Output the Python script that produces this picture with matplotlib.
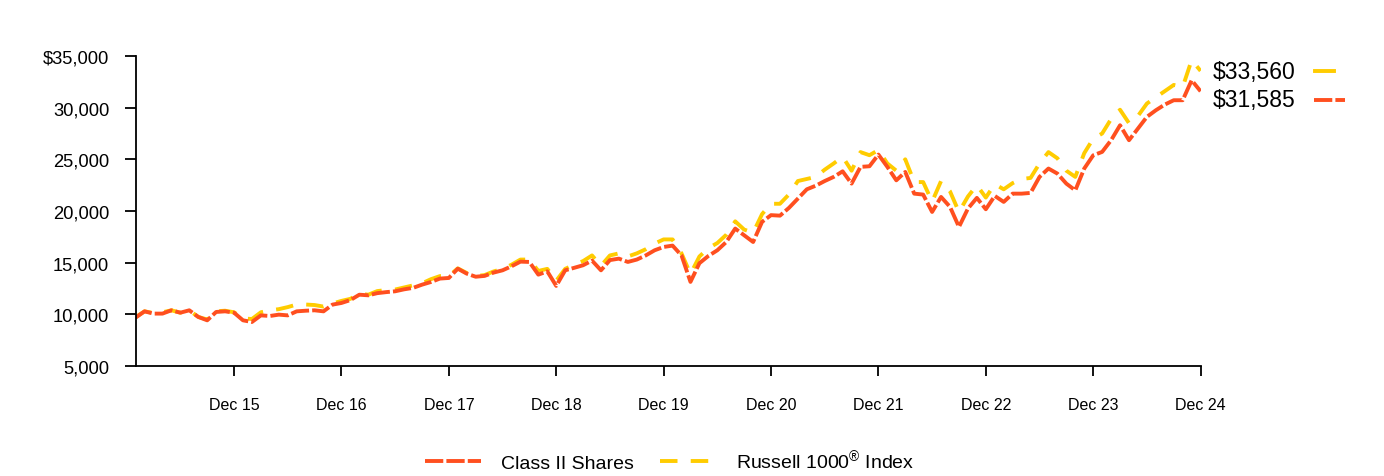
import matplotlib
matplotlib.use("Agg")
import matplotlib.pyplot as plt
from matplotlib.lines import Line2D
from matplotlib.ticker import FuncFormatter

plt.rcParams['font.family'] = ['Liberation Sans', 'DejaVu Sans']
plt.rcParams['mathtext.default'] = 'regular'

### Data (month index 1 = Jan 2015 ... 120 = Dec 2024) ###
months = list(range(1, 121))

class_ii = [
    9680, 10290, 10070, 10070, 10390, 10160, 10390, 9750, 9420, 10230, 10290, 10160,
    9420, 9260, 9900, 9840, 9970, 9900, 10290, 10350, 10390, 10290, 10940, 11100,
    11380, 11900, 11840, 12050, 12150, 12230, 12420, 12560, 12870, 13130, 13460, 13520,
    14420, 13940, 13640, 13720, 14040, 14260, 14650, 15100, 15070, 13840, 14160, 12750,
    14260, 14500, 14750, 15200, 14260, 15250, 15390, 15070, 15300, 15700, 16200, 16520,
    16650, 15700, 13140, 14950, 15650, 16200, 17000, 18300, 17650, 17000, 18950, 19600,
    19550, 20300, 21200, 22100, 22450, 22900, 23300, 23840, 22650, 24270, 24330, 25460,
    24270, 22970, 23780, 21680, 21590, 19910, 21360, 20400, 18460, 20230, 21270, 20170,
    21460, 20880, 21680, 21680, 21750, 23300, 24110, 23620, 22650, 22000, 24110, 25390,
    25720, 26850, 28300, 26850, 27980, 29110, 29750, 30300, 30720, 30720, 32650, 31585,
]

russell = [
    9730, 10290, 10130, 10200, 10390, 10160, 10390, 9750, 9500, 10300, 10350, 10200,
    9600, 9550, 10200, 10390, 10500, 10700, 10950, 10950, 10900, 10750, 11050, 11300,
    11500, 12000, 11900, 12250, 12350, 12400, 12600, 12800, 13000, 13400, 13700, 13700,
    14450, 14000, 13700, 13800, 14150, 14400, 14800, 15300, 15300, 14200, 14400, 13250,
    14400, 14800, 15150, 15700, 14700, 15700, 15900, 15600, 15900, 16300, 16850, 17250,
    17250, 15900, 13900, 15600, 16400, 16900, 17700, 19000, 18200, 17900, 19700, 20700,
    20700, 21600, 22900, 23100, 23300, 24000, 24600, 25250, 23900, 25700, 25400, 25900,
    24600, 23900, 25000, 22800, 22800, 20900, 22900, 21900, 19900, 21400, 22500, 21300,
    22600, 22100, 22700, 23100, 23200, 24600, 25700, 25100, 23900, 23300, 25600, 27000,
    27500, 28900, 29800, 28500, 29200, 30400, 31000, 31600, 32200, 32000, 34600, 33560,
]

tick_months = [12, 24, 36, 48, 60, 72, 84, 96, 108, 120]
tick_labels = ['Dec 15', 'Dec 16', 'Dec 17', 'Dec 18', 'Dec 19',
               'Dec 20', 'Dec 21', 'Dec 22', 'Dec 23', 'Dec 24']
y_ticks = [5000, 10000, 15000, 20000, 25000, 30000, 35000]

end_class = "$31,585"
end_russell = "$33,560"

orange = '#FF4F1F'
yellow = '#FFCC00'

### Plot ###
fig = plt.figure(figsize=(13.84, 4.77), dpi=100)
ax = fig.add_axes([135.6 / 1384, 0.2306, 1065 / 1384, 0.6499])

ax.plot(months, russell, color=yellow, lw=2.8, dashes=(4.5, 3.4), label='Russell 1000$^{®}$ Index')
ax.plot(months, class_ii, color=orange, lw=2.8, dashes=(4.7, 0.8), label='Class II Shares')

ax.set_xlim(1, 120)
ax.set_ylim(5000, 35000)
ax.set_xticks(tick_months)
ax.set_xticklabels(tick_labels, fontsize=11.5)
ax.set_yticks(y_ticks)
ax.yaxis.set_major_formatter(FuncFormatter(
    lambda v, p: '${:,.0f}'.format(v) if v == 35000 else '{:,.0f}'.format(v)))
ax.tick_params(axis='y', labelsize=13.2, length=8, width=1.3, direction='out', pad=11)
ax.tick_params(axis='x', length=7, width=1.3, direction='out', pad=15.5)
for s in ['top', 'right']:
    ax.spines[s].set_visible(False)
for s in ['left', 'bottom']:
    ax.spines[s].set_linewidth(1.3)

# end value labels with line samples
fig.text(1213 / 1384, 1 - 72 / 477, end_russell, fontsize=16.5, va='center', ha='left')
fig.text(1213 / 1384, 1 - 101 / 477, end_class, fontsize=16.5, va='center', ha='left')
fig.add_artist(Line2D([1315 / 1384, 1334 / 1384], [1 - 72 / 477] * 2,
                     color=yellow, lw=2.8, transform=fig.transFigure))
fig.add_artist(Line2D([1314 / 1384, 1345 / 1384], [1 - 101 / 477] * 2,
                     color=orange, lw=2.8, dashes=(4.7, 0.8), transform=fig.transFigure))

h, l = ax.get_legend_handles_labels()
fig.legend(h[::-1], l[::-1], loc='center', bbox_to_anchor=(670 / 1384, 1 - 461 / 477),
           ncol=2, frameon=False, fontsize=14, handlelength=2.85,
           columnspacing=1.35, handletextpad=1.05)

fig.savefig('out.png', dpi=100)
